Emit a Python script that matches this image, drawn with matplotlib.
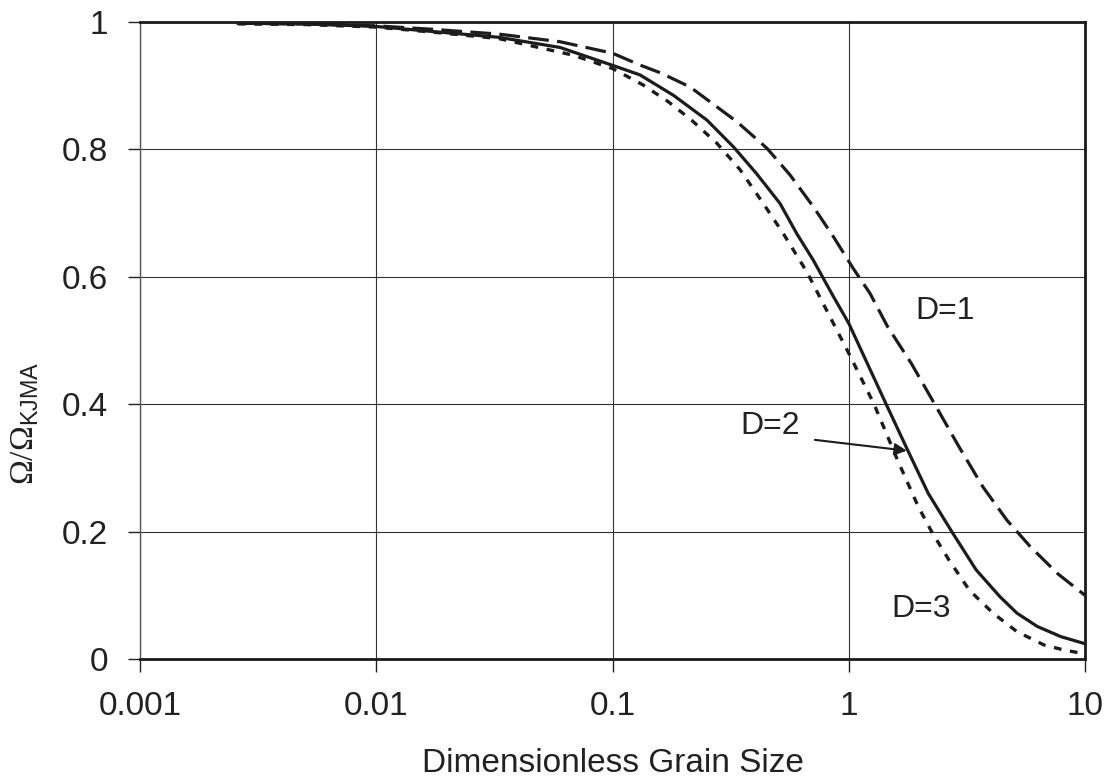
import matplotlib
matplotlib.use("Agg")
import matplotlib.pyplot as plt

plt.rcParams['font.family'] = ['Liberation Sans', 'DejaVu Sans']
plt.rcParams['mathtext.fontset'] = 'custom'
plt.rcParams['mathtext.rm'] = 'Liberation Serif'
plt.rcParams['mathtext.sf'] = 'Liberation Sans'

# Data
x_d1 = [0.0026, 0.005, 0.01, 0.0174, 0.033, 0.06, 0.1, 0.1306, 0.16, 0.213, 0.336,
        0.45, 0.564, 0.708, 0.861, 1.045, 1.23, 1.459, 1.84, 2.32, 2.93, 3.70,
        4.67, 5.88, 7.66, 10.0]
y_d1 = [0.998, 0.997, 0.994, 0.9885, 0.981, 0.969, 0.951, 0.9325, 0.920, 0.898, 0.8435,
        0.802, 0.760, 0.710, 0.663, 0.613, 0.574, 0.522, 0.464, 0.399, 0.333, 0.270,
        0.218, 0.176, 0.134, 0.100]

x_d2 = [0.0026, 0.005, 0.01, 0.0174, 0.033, 0.06, 0.1, 0.1306, 0.181, 0.251, 0.325,
        0.407, 0.512, 0.602, 0.708, 0.861, 1.0, 1.44, 1.78, 2.17, 2.74, 3.46,
        4.36, 5.15, 6.29, 7.92, 10.0]
y_d2 = [0.998, 0.997, 0.993, 0.985, 0.976, 0.960, 0.932, 0.917, 0.885, 0.846, 0.804,
        0.762, 0.715, 0.668, 0.626, 0.569, 0.527, 0.400, 0.327, 0.260, 0.199, 0.140,
        0.098, 0.072, 0.051, 0.035, 0.024]

x_d3 = [0.0026, 0.005, 0.01, 0.0174, 0.033, 0.068, 0.1, 0.135, 0.172, 0.216, 0.276,
        0.347, 0.435, 0.528, 0.664, 1.0, 1.28, 1.61, 1.97, 2.25, 2.66, 3.24,
        4.08, 5.15, 6.71, 8.18, 10.0]
y_d3 = [0.997, 0.996, 0.992, 0.984, 0.974, 0.948, 0.927, 0.901, 0.875, 0.846, 0.810,
        0.768, 0.715, 0.668, 0.608, 0.480, 0.400, 0.312, 0.239, 0.199, 0.155, 0.108,
        0.072, 0.043, 0.022, 0.014, 0.008]

x_ticks = [0.001, 0.01, 0.1, 1, 10]
x_tick_labels = ['0.001', '0.01', '0.1', '1', '10']
y_ticks = [0, 0.2, 0.4, 0.6, 0.8, 1]
y_tick_labels = ['0', '0.2', '0.4', '0.6', '0.8', '1']

line_color = '#1c1c1c'
text_color = '#222222'
fs = 23
tick_fs = 24

fig = plt.figure(figsize=(11.08, 7.78), dpi=100)
ax = fig.add_axes([140/1108, 1-659/778, 945/1108, 637/778])

ax.plot(x_d1, y_d1, color=line_color, lw=2.3, linestyle=(0, (6.5, 2.6)))
ax.plot(x_d2, y_d2, color=line_color, lw=2.3, linestyle='-')
ax.plot(x_d3, y_d3, color=line_color, lw=2.4, linestyle=(0, (2.3, 2.6)))

ax.set_xscale('log')
ax.set_xlim(0.001, 10)
ax.set_ylim(0, 1)
ax.set_xticks(x_ticks)
ax.set_xticklabels(x_tick_labels)
ax.minorticks_off()
ax.set_yticks(y_ticks)
ax.set_yticklabels(y_tick_labels)
ax.tick_params(axis='both', labelsize=tick_fs, colors=text_color, direction='out', length=9, width=1)
ax.tick_params(axis='x', pad=14)
ax.tick_params(axis='y', pad=14)

ax.grid(True, color='#333333', lw=0.8)
ax.set_axisbelow(True)

for side in ['top', 'right', 'bottom']:
    ax.spines[side].set_linewidth(2.0)
    ax.spines[side].set_color('#1a1a1a')
ax.spines['left'].set_linewidth(1.0)
ax.spines['left'].set_color('#555555')

ax.set_xlabel('Dimensionless Grain Size', fontsize=tick_fs, color=text_color)
ax.xaxis.set_label_coords(0.5, -0.14)
ax.set_ylabel(r'$\mathrm{Ω/Ω}_{\mathsf{KJMA}}$', fontsize=tick_fs, color=text_color)
ax.yaxis.set_label_coords(-0.105, 0.37)

ax.text(2.55, 0.546, 'D=1', fontsize=fs, color=text_color, ha='center', va='center')
ax.text(0.465, 0.366, 'D=2', fontsize=fs, color=text_color, ha='center', va='center')
ax.text(2.02, 0.078, 'D=3', fontsize=fs, color=text_color, ha='center', va='center')
ax.annotate('', xy=(1.76, 0.327), xytext=(0.719, 0.344),
            arrowprops=dict(arrowstyle='-|>', color=line_color, lw=1.5,
                            mutation_scale=18, shrinkA=0, shrinkB=0))

fig.savefig('out.png', dpi=100)
